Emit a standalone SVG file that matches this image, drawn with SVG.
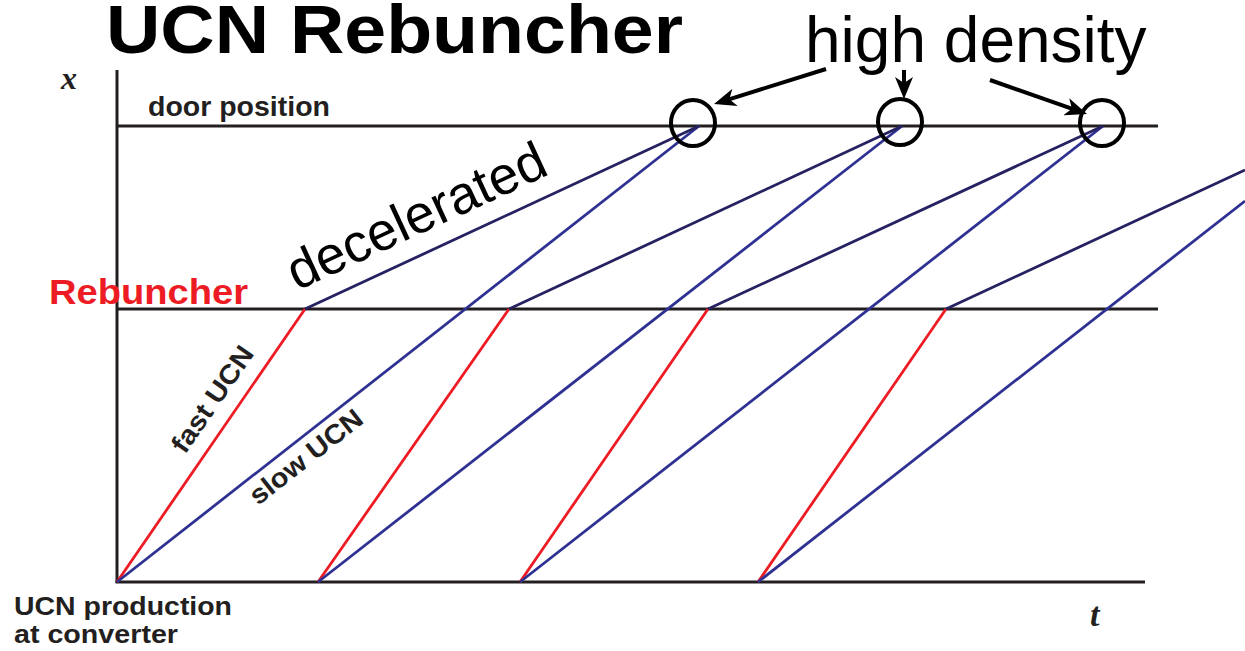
<svg xmlns="http://www.w3.org/2000/svg" width="1245" height="651" viewBox="0 0 1245 651">
<defs>
<style>
.axis{stroke:#231f20;stroke-width:3;fill:none}
.fast{stroke:#ed1c24;stroke-width:2.8;fill:none}
.slow{stroke:#2e3192;stroke-width:2.8;fill:none}
.dec{stroke:#262262;stroke-width:2.8;fill:none}
.lbl{font-family:"Liberation Sans",Arial,sans-serif;font-weight:bold;fill:#231f20}
.ann{font-family:"Liberation Sans",Arial,sans-serif;fill:#000}
.var{font-family:"Liberation Serif","Times New Roman",serif;font-style:italic;font-weight:bold;fill:#231f20}
.circ{fill:none;stroke:#000;stroke-width:4}
.arr{stroke:#000;stroke-width:4;fill:none}
</style>
<marker id="ah" viewBox="0 0 22 18" refX="8" refY="9" markerUnits="userSpaceOnUse" markerWidth="22" markerHeight="18" orient="auto">
<path d="M0,0 L22,9 L0,18 L6,9 z" fill="#000"/>
</marker>
</defs>
<rect width="1245" height="651" fill="#fff"/>
<g id="title"><text class="lbl" x="106" y="53" font-size="69" textLength="577" lengthAdjust="spacingAndGlyphs" style="fill:#000">UCN Rebuncher</text></g>
<g id="axes">
<line class="axis" x1="117" y1="70" x2="117" y2="583"/>
<line class="axis" x1="115.5" y1="582" x2="1145" y2="582"/>
<text class="var" x="61" y="89" font-size="32">x</text>
<text class="var" x="1090" y="626" font-size="34">t</text>
</g>
<g id="door-position">
<line class="axis" x1="117" y1="126" x2="1158" y2="126"/>
<text class="lbl" x="148" y="116" font-size="27.5" textLength="182" lengthAdjust="spacingAndGlyphs">door position</text>
</g>
<g id="rebuncher">
<line class="axis" x1="117" y1="309" x2="1158" y2="309"/>
<text class="lbl" x="49" y="304" font-size="35" textLength="199" lengthAdjust="spacingAndGlyphs" style="fill:#ed1c24">Rebuncher</text>
</g>
<g id="production">
<text class="lbl" x="14" y="615" font-size="26.5" textLength="218" lengthAdjust="spacingAndGlyphs">UCN production</text>
<text class="lbl" x="14" y="643" font-size="26.5" textLength="164" lengthAdjust="spacingAndGlyphs">at converter</text>
</g>
<g id="connectors">
<polyline class="fast" points="117,582 305,309"/>
<polyline class="slow" points="117,582 699,126"/>
<polyline class="dec" points="305,309 699,126"/>
<polyline class="fast" points="318,582 509,309"/>
<polyline class="slow" points="318,582 902,126"/>
<polyline class="dec" points="509,309 902,126"/>
<polyline class="fast" points="520,582 708,309"/>
<polyline class="slow" points="520,582 1103,126"/>
<polyline class="dec" points="708,309 1103,126"/>
<polyline class="fast" points="758,582 946,309"/>
<polyline class="slow" points="758,582 1245,201"/>
<polyline class="dec" points="946,309 1245,170"/>
<line class="arr" x1="826" y1="69" x2="727.4" y2="99.8" marker-end="url(#ah)"/>
<line class="arr" x1="904" y1="70" x2="904" y2="85" marker-end="url(#ah)"/>
<line class="arr" x1="990" y1="80" x2="1073.8" y2="109.4" marker-end="url(#ah)"/>
</g>
<g id="labels">
<text class="lbl" font-size="27" textLength="123" lengthAdjust="spacingAndGlyphs" transform="translate(185,455) rotate(-55.4)">fast UCN</text>
<text class="lbl" font-size="27" textLength="136" lengthAdjust="spacingAndGlyphs" transform="translate(258,506) rotate(-38.1)">slow UCN</text>
<text class="ann" font-size="53.5" transform="translate(297,291) rotate(-24.8)">decelerated</text>
</g>
<g id="high-density">
<text class="ann" x="805" y="62" font-size="64">high density</text>
<ellipse class="circ" cx="693" cy="123" rx="22" ry="23"/>
<ellipse class="circ" cx="900" cy="122" rx="22" ry="23"/>
<ellipse class="circ" cx="1102" cy="123" rx="22" ry="23"/>
</g>
</svg>
